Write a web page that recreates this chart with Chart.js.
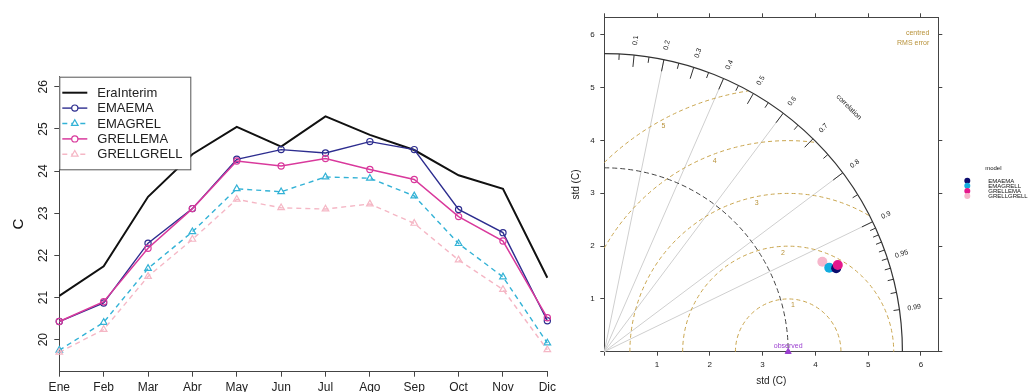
<!DOCTYPE html>
<html>
<head>
<meta charset="utf-8">
<script src="https://cdn.jsdelivr.net/npm/chart.js@4.4.1/dist/chart.umd.min.js"></script>
<style>
  html, body { margin: 0; padding: 0; background: #fff; overflow: hidden; }
  #left { position: absolute; left: 0; top: 0; }
  #right { position: absolute; left: 560px; top: 0; }
</style>
</head>
<body>
<canvas id="left" width="560" height="392"></canvas>
<canvas id="right" width="476" height="392"></canvas>
<script>
// monthly mean temperature (C)
const months = ['Ene', 'Feb', 'Mar', 'Abr', 'May', 'Jun', 'Jul', 'Ago', 'Sep', 'Oct', 'Nov', 'Dic'];
const eraInterim = [21.04, 21.74, 23.39, 24.40, 25.05, 24.58, 25.30, 24.86, 24.50, 23.90, 23.58, 21.47];
const emaEma     = [20.43, 20.87, 22.29, 23.11, 24.28, 24.51, 24.43, 24.70, 24.51, 23.09, 22.54, 20.45];
const emaGrel    = [19.75, 20.41, 21.69, 22.56, 23.58, 23.51, 23.86, 23.83, 23.41, 22.28, 21.49, 19.92];
const grellEma   = [20.43, 20.90, 22.17, 23.11, 24.24, 24.12, 24.30, 24.04, 23.80, 22.92, 22.34, 20.52];
const grellGrell = [19.70, 20.24, 21.50, 22.38, 23.33, 23.13, 23.10, 23.22, 22.76, 21.89, 21.19, 19.76];
const tempTicks = [20, 21, 22, 23, 24, 25, 26];

// Taylor diagram
const taylorModels = ['EMAEMA', 'EMAGRELL', 'GRELLEMA', 'GRELLGRELL'];
const taylorStd = [4.67, 4.55, 4.72, 4.47];
const taylorCor = [0.941, 0.937, 0.9375, 0.9245];
const observedStd = 3.485;
const stdTicks = [0, 1, 2, 3, 4, 5, 6];
const corLabels = [0.1, 0.2, 0.3, 0.4, 0.5, 0.6, 0.7, 0.8, 0.9, 0.95, 0.99];
const corBigTicks = [0.1, 0.2, 0.3, 0.4, 0.5, 0.6, 0.7, 0.8, 0.9];
const corMedTicks = [0.05, 0.15, 0.25, 0.35, 0.45, 0.55, 0.65, 0.75, 0.85, 0.95];
const corSmallTicks = [0.91, 0.92, 0.93, 0.94, 0.96, 0.97, 0.98, 0.99];
const corGridLines = [0.2, 0.4, 0.6, 0.8, 0.9];
const rmsLevels = [1, 2, 3, 4, 5];

const FONT = "'Liberation Sans', Arial, Helvetica, sans-serif";
const NAVY = '#2d2d8f', CYAN = '#33b2d6', MAGENTA = '#d9399c', PINK = '#f5b7c5';

// legend box drawn inside the plot, top-left, like R's legend()
const boxLegend = {
  id: 'boxLegend',
  afterDatasetsDraw(chart) {
    const ctx = chart.ctx, a = chart.chartArea;
    const x0 = a.left, y0 = a.top, w = 131, h = 92.6;
    ctx.save();
    ctx.fillStyle = '#fff';
    ctx.fillRect(x0, y0, w, h);
    ctx.strokeStyle = '#555';
    ctx.lineWidth = 1;
    ctx.strokeRect(x0 + 0.5, y0 + 0.5, w, h);
    chart.data.datasets.forEach((ds, i) => {
      const y = y0 + 16 + i * 15.4;
      ctx.strokeStyle = ds.borderColor;
      ctx.lineWidth = ds.borderWidth;
      ctx.setLineDash(ds.borderDash || []);
      ctx.beginPath();
      ctx.moveTo(x0 + 3, y);
      ctx.lineTo(x0 + 28, y);
      ctx.stroke();
      ctx.setLineDash([]);
      ctx.lineWidth = 1.2;
      const mx = x0 + 15.5;
      if (ds.pointRadius > 0) {
        ctx.fillStyle = '#fff';
        ctx.beginPath();
        if (ds.pointStyle === 'triangle') {
          const r = ds.pointRadius;
          ctx.moveTo(mx, y - r);
          ctx.lineTo(mx + r * 0.866, y + r / 2);
          ctx.lineTo(mx - r * 0.866, y + r / 2);
          ctx.closePath();
        } else {
          ctx.arc(mx, y, ds.pointRadius, 0, Math.PI * 2);
        }
        ctx.fill();
        ctx.stroke();
      }
      ctx.fillStyle = '#222';
      ctx.font = '13px ' + FONT;
      ctx.textBaseline = 'middle';
      ctx.fillText(ds.label, x0 + 38, y + 0.5);
    });
    ctx.restore();
  }
};

function series(label, data, color, opts) {
  return Object.assign({
    label: label,
    data: data,
    borderColor: color,
    pointBorderColor: color,
    pointBackgroundColor: 'rgba(0,0,0,0)',
    borderWidth: 1.4,
    pointBorderWidth: 1.2,
    pointRadius: 3.1,
    pointStyle: 'circle',
    tension: 0
  }, opts);
}

new Chart(document.getElementById('left'), {
  type: 'line',
  data: {
    labels: months,
    datasets: [
      series('EraInterim', eraInterim, '#111', { borderWidth: 2, pointRadius: 0, order: 5 }),
      series('EMAEMA', emaEma, NAVY, { order: 4 }),
      series('EMAGREL', emaGrel, CYAN, { borderDash: [5, 4], pointStyle: 'triangle', pointRadius: 3.8, order: 3 }),
      series('GRELLEMA', grellEma, MAGENTA, { borderWidth: 1.5, order: 2 }),
      series('GRELLGRELL', grellGrell, PINK, { borderDash: [5, 4], pointStyle: 'triangle', pointRadius: 3.8, order: 1 })
    ]
  },
  options: {
    responsive: false,
    animation: false,
    devicePixelRatio: 1,
    layout: { padding: { left: 0, right: 12.3, top: 76.7, bottom: 0 } },
    plugins: { legend: { display: false }, tooltip: { enabled: false } },
    scales: {
      x: {
        offset: false,
        grid: { drawOnChartArea: false, tickLength: 5, color: '#444' },
        border: { color: '#444' },
        ticks: { font: { size: 12, family: FONT }, color: '#222', padding: 4, maxRotation: 0, autoSkip: false },
        afterFit(s) { s.height = 20.3; }
      },
      y: {
        min: 19.24,
        max: 26.24,
        afterBuildTicks(s) { s.ticks = tempTicks.map(v => ({ value: v })); },
        grid: { drawOnChartArea: false, tickLength: 5, color: '#444' },
        border: { color: '#444' },
        ticks: { font: { size: 12, family: FONT }, color: '#222', padding: 3.5, minRotation: 90, maxRotation: 90, crossAlign: 'center' },
        title: { display: true, text: 'C', font: { size: 15, family: FONT }, color: '#111', padding: { top: 10 } },
        afterFit(s) { s.width = 59.3; }
      }
    }
  },
  plugins: [boxLegend]
});

// Taylor diagram background: correlation arc, radial lines, RMS arcs
const taylorGrid = {
  id: 'taylorGrid',
  beforeDatasetsDraw(chart) {
    const ctx = chart.ctx, xs = chart.scales.x, ys = chart.scales.y;
    const ox = xs.getPixelForValue(0), oy = ys.getPixelForValue(0);
    const u = xs.getPixelForValue(1) - ox;
    const maxSd = 5.65;
    const pt = (sd, c) => [ox + sd * c * u, oy - sd * Math.sqrt(1 - c * c) * u];
    ctx.save();

    ctx.strokeStyle = '#cfcfcf';
    ctx.lineWidth = 1;
    corGridLines.forEach(c => {
      const p = pt(maxSd, c);
      ctx.beginPath(); ctx.moveTo(ox, oy); ctx.lineTo(p[0], p[1]); ctx.stroke();
    });

    // centred RMS error arcs around the observed point
    const cx = ox + observedStd * u;
    ctx.strokeStyle = '#c9a54e';
    ctx.setLineDash([4, 3]);
    rmsLevels.forEach(R => {
      const xi = (maxSd * maxSd + observedStd * observedStd - R * R) / (2 * observedStd);
      const a0 = (xi - observedStd) < R ? Math.acos((xi - observedStd) / R) : 0;
      const a1 = R > observedStd ? Math.acos(-observedStd / R) : Math.PI;
      ctx.beginPath(); ctx.arc(cx, oy, R * u, -a1, -a0); ctx.stroke();
    });

    // observed std arc
    ctx.strokeStyle = '#444';
    ctx.setLineDash([5, 3]);
    ctx.beginPath(); ctx.arc(ox, oy, observedStd * u, -Math.PI / 2, 0); ctx.stroke();
    ctx.setLineDash([]);

    // outer correlation arc and ticks
    ctx.strokeStyle = '#333';
    ctx.lineWidth = 1.2;
    ctx.beginPath(); ctx.arc(ox, oy, maxSd * u, -Math.PI / 2, 0); ctx.stroke();
    ctx.lineWidth = 1;
    const tick = (c, f) => {
      const a = pt(maxSd, c), b = pt(maxSd * f, c);
      ctx.beginPath(); ctx.moveTo(a[0], a[1]); ctx.lineTo(b[0], b[1]); ctx.stroke();
    };
    corBigTicks.forEach(c => tick(c, 0.96));
    corMedTicks.forEach(c => tick(c, 0.98));
    corSmallTicks.forEach(c => tick(c, 0.98));

    ctx.fillStyle = '#222';
    ctx.font = '7px ' + FONT;
    ctx.textAlign = 'center';
    ctx.textBaseline = 'middle';
    corLabels.forEach(c => {
      const p = pt(maxSd * 1.05, c);
      ctx.save();
      ctx.translate(p[0], p[1]);
      ctx.rotate(-Math.acos(c));
      ctx.fillText(String(c), 0, 0);
      ctx.restore();
    });
    const cp = pt(maxSd * 1.16, Math.cos(Math.PI / 4));
    ctx.save();
    ctx.translate(cp[0], cp[1]);
    ctx.rotate(Math.PI / 4);
    ctx.fillText('correlation', 0, 0);
    ctx.restore();

    // RMS labels
    ctx.fillStyle = '#b8923a';
    const labelAngles = [84, 93, 102, 111, 119];
    rmsLevels.forEach((R, i) => {
      const a = labelAngles[i] * Math.PI / 180;
      ctx.fillText(String(R), cx + (R - 0.12) * u * Math.cos(a), oy - (R - 0.12) * u * Math.sin(a));
    });
    const ca = chart.chartArea;
    ctx.textAlign = 'right';
    ctx.fillText('centred', ca.right - 9, ca.top + 16);
    ctx.fillText('RMS error', ca.right - 9, ca.top + 26);

    // observed label
    ctx.textAlign = 'center';
    ctx.fillStyle = '#9b3fd0';
    ctx.fillText('observed', cx, oy - 6);
    ctx.restore();
  },
  afterDraw(chart) {
    const ctx = chart.ctx, ca = chart.chartArea;
    ctx.save();
    ctx.fillStyle = '#111';
    ctx.font = '6px ' + FONT;
    ctx.textAlign = 'center';
    ctx.textBaseline = 'middle';
    ctx.fillText('model', ca.right + 55, 168.3);
    ctx.textAlign = 'left';
    taylorModels.forEach((m, i) => {
      const y = 180.7 + i * 5.1;
      ctx.fillStyle = taylorColors[i];
      ctx.beginPath(); ctx.arc(ca.right + 29, y, 3, 0, Math.PI * 2); ctx.fill();
      ctx.fillStyle = '#111';
      ctx.fillText(m, ca.right + 50, y + 0.3);
    });
    ctx.restore();
  }
};

const taylorColors = ['#0c0c6e', '#13acdf', '#e5188c', '#f6b6cb'];
const taylorOrder = [2, 3, 1, 4];

const stdAxis = (position, extra) => Object.assign({
  type: 'linear',
  position: position,
  min: 0,
  max: 6.33,
  afterBuildTicks(s) { s.ticks = stdTicks.map(v => ({ value: v })); },
  grid: { drawOnChartArea: false, tickLength: 4, color: '#444' },
  border: { color: '#444' },
  ticks: { display: false }
}, extra);

new Chart(document.getElementById('right'), {
  type: 'scatter',
  data: {
    datasets: taylorModels.map((m, i) => ({
      label: m,
      data: [{ x: taylorStd[i] * taylorCor[i], y: taylorStd[i] * Math.sqrt(1 - taylorCor[i] * taylorCor[i]) }],
      backgroundColor: taylorColors[i],
      borderColor: taylorColors[i],
      pointRadius: 5,
      pointBorderWidth: 0,
      order: taylorOrder[i]
    })).concat([{
      label: 'observed',
      data: [{ x: observedStd, y: 0 }],
      pointStyle: 'triangle',
      pointRadius: 3.5,
      backgroundColor: '#9b3fd0',
      borderColor: '#9b3fd0',
      clip: false,
      order: 0
    }])
  },
  options: {
    responsive: false,
    animation: false,
    devicePixelRatio: 1,
    layout: { padding: 0 },
    plugins: { legend: { display: false }, tooltip: { enabled: false } },
    scales: {
      x: stdAxis('bottom', {
        ticks: { display: true, font: { size: 8, family: FONT }, color: '#222', padding: 3.8, maxRotation: 0, callback: v => (v === 0 ? '' : v) },
        title: { display: true, text: 'std (C)', font: { size: 10, family: FONT }, color: '#222', padding: { bottom: 4.3 } },
        afterFit(s) { s.height = 40.3; }
      }),
      y: stdAxis('left', {
        ticks: { display: true, font: { size: 8, family: FONT }, color: '#222', padding: 5.5, callback: v => (v === 0 ? '' : v) },
        title: { display: true, text: 'std (C)', font: { size: 10, family: FONT }, color: '#222', padding: { top: 10 } },
        afterFit(s) { s.width = 44.3; }
      }),
      x2: stdAxis('top', { afterFit(s) { s.height = 17.3; } }),
      y2: stdAxis('right', { afterFit(s) { s.width = 97.7; } })
    }
  },
  plugins: [taylorGrid]
});
</script>
</body>
</html>
